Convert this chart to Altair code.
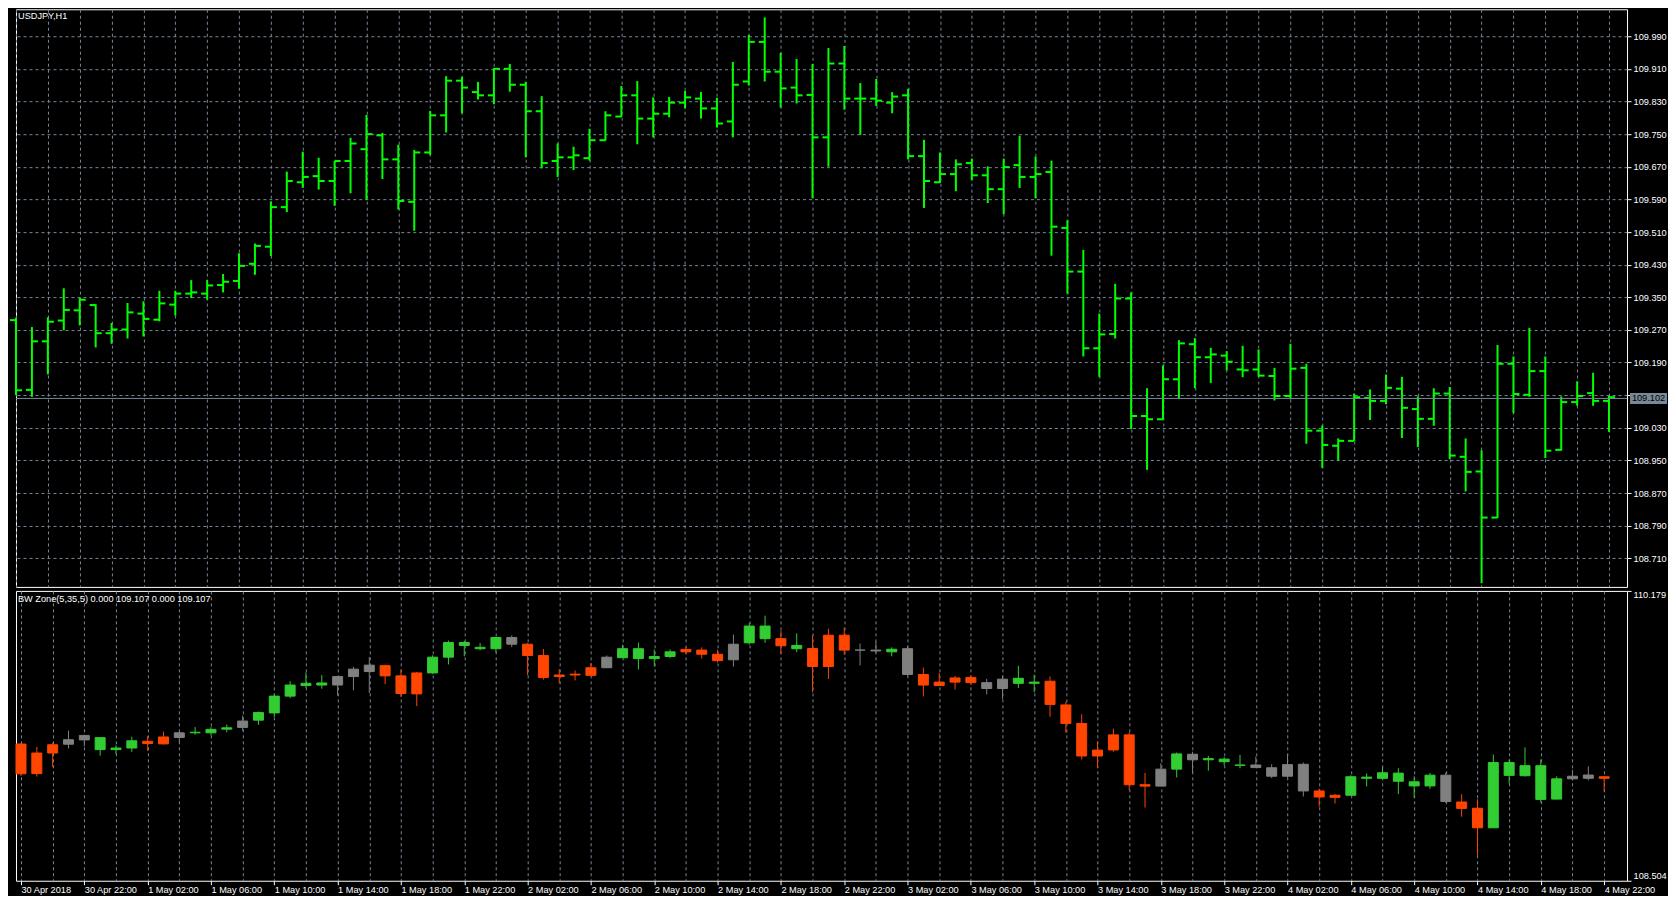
import json
import altair as alt
import pandas as pd

# ---------------- data ----------------
opens = [109.294, 109.123, 109.242, 109.293, 109.318, 109.331, 109.262, 109.271, 109.310, 109.295,
         109.332, 109.359, 109.359, 109.380, 109.390, 109.432, 109.474, 109.571, 109.632, 109.647,
         109.635, 109.684, 109.713, 109.747, 109.688, 109.584, 109.705, 109.796, 109.881, 109.853,
         109.845, 109.910, 109.871, 109.806, 109.684, 109.693, 109.691, 109.735, 109.793, 109.845,
         109.788, 109.800, 109.827, 109.837, 109.813, 109.781, 109.879, 109.976, 109.903, 109.864,
         109.846, 109.742, 109.923, 109.837, 109.837, 109.827, 109.845, 109.696, 109.632, 109.652,
         109.679, 109.649, 109.615, 109.674, 109.645, 109.657, 109.520, 109.413, 109.225, 109.260,
         109.347, 109.059, 109.051, 109.149, 109.235, 109.203, 109.207, 109.173, 109.173, 109.157,
         109.108, 109.177, 109.023, 108.986, 108.998, 109.103, 109.096, 109.126, 109.076, 109.052,
         109.114, 108.959, 108.923, 108.810, 109.187, 109.111, 109.169, 108.976, 109.093, 109.115,
         109.096]
highs = [109.300, 109.277, 109.301, 109.372, 109.348, 109.333, 109.287, 109.336, 109.340, 109.366,
         109.366, 109.392, 109.392, 109.407, 109.458, 109.482, 109.585, 109.658, 109.707, 109.692,
         109.684, 109.741, 109.797, 109.753, 109.724, 109.711, 109.807, 109.892, 109.890, 109.878,
         109.912, 109.922, 109.878, 109.843, 109.727, 109.719, 109.763, 109.806, 109.868, 109.880,
         109.840, 109.841, 109.856, 109.853, 109.839, 109.927, 109.993, 110.036, 109.949, 109.934,
         109.922, 109.961, 109.966, 109.875, 109.885, 109.853, 109.861, 109.736, 109.705, 109.688,
         109.690, 109.671, 109.690, 109.746, 109.695, 109.685, 109.539, 109.466, 109.310, 109.383,
         109.362, 109.127, 109.183, 109.245, 109.250, 109.226, 109.218, 109.231, 109.222, 109.177,
         109.236, 109.187, 109.036, 109.004, 109.114, 109.124, 109.161, 109.155, 109.107, 109.127,
         109.130, 109.004, 108.975, 109.233, 109.205, 109.275, 109.205, 109.107, 109.144, 109.165,
         109.108]
lows = [109.110, 109.106, 109.161, 109.269, 109.281, 109.227, 109.236, 109.249, 109.254, 109.291,
        109.305, 109.348, 109.344, 109.362, 109.371, 109.405, 109.451, 109.559, 109.618, 109.614,
        109.574, 109.605, 109.589, 109.640, 109.565, 109.513, 109.699, 109.754, 109.801, 109.835,
        109.823, 109.854, 109.693, 109.666, 109.645, 109.662, 109.685, 109.734, 109.792, 109.725,
        109.742, 109.791, 109.813, 109.788, 109.766, 109.742, 109.869, 109.879, 109.815, 109.825,
        109.593, 109.670, 109.810, 109.748, 109.819, 109.801, 109.688, 109.569, 109.630, 109.610,
        109.637, 109.581, 109.554, 109.618, 109.593, 109.452, 109.359, 109.205, 109.155, 109.249,
        109.027, 108.927, 109.051, 109.101, 109.127, 109.140, 109.171, 109.154, 109.155, 109.097,
        109.100, 108.991, 108.932, 108.950, 108.998, 109.049, 109.088, 109.005, 108.983, 109.035,
        108.953, 108.874, 108.649, 108.809, 109.066, 109.106, 108.956, 108.974, 109.084, 109.084,
        109.020]
closes = [109.122, 109.242, 109.290, 109.319, 109.344, 109.262, 109.271, 109.313, 109.297, 109.335,
          109.359, 109.362, 109.379, 109.388, 109.427, 109.476, 109.571, 109.635, 109.645, 109.635,
          109.684, 109.727, 109.750, 109.688, 109.586, 109.705, 109.796, 109.881, 109.864, 109.845,
          109.910, 109.871, 109.806, 109.679, 109.693, 109.698, 109.735, 109.796, 109.845, 109.788,
          109.800, 109.827, 109.840, 109.813, 109.776, 109.871, 109.976, 109.903, 109.862, 109.845,
          109.742, 109.923, 109.837, 109.837, 109.832, 109.842, 109.696, 109.635, 109.652, 109.676,
          109.649, 109.615, 109.669, 109.645, 109.652, 109.523, 109.413, 109.225, 109.259, 109.347,
          109.059, 109.051, 109.149, 109.237, 109.203, 109.210, 109.192, 109.171, 109.158, 109.108,
          109.175, 109.023, 108.988, 108.998, 109.105, 109.096, 109.128, 109.079, 109.052, 109.114,
          108.962, 108.922, 108.810, 109.187, 109.113, 109.169, 108.974, 109.093, 109.108, 109.096,
          109.105]
# BW Zone colour state: g = green zone, r = red zone, n = neutral (grey)
zones = list(
    "rrrnngggrr"
    "ngggnggggg"
    "nnnrrrgggg"
    "gnrrrrrngg"
    "ggrrrnggrg"
    "rrrnngnrrr"
    "rnnggrrrrr"
    "rrngngggnn"
    "nnrrgggggg"
    "nrrgggggnn"
    "r")
time_labels = ["30 Apr 2018", "30 Apr 22:00", "1 May 02:00", "1 May 06:00", "1 May 10:00",
               "1 May 14:00", "1 May 18:00", "1 May 22:00", "2 May 02:00", "2 May 06:00",
               "2 May 10:00", "2 May 14:00", "2 May 18:00", "2 May 22:00", "3 May 02:00",
               "3 May 06:00", "3 May 10:00", "3 May 14:00", "3 May 18:00", "3 May 22:00",
               "4 May 02:00", "4 May 06:00", "4 May 10:00", "4 May 14:00", "4 May 18:00",
               "4 May 22:00"]
price_ticks = [108.710, 108.790, 108.870, 108.950, 109.030, 109.110, 109.190, 109.270, 109.350,
               109.430, 109.510, 109.590, 109.670, 109.750, 109.830, 109.910, 109.990]
sub_ticks = [108.504, 110.179]
current_price = [109.102]
main_title = ["USDJPY,H1"]
sub_title = ["BW Zone(5,35,5) 0.000 109.107 0.000 109.107"]

# ---------------- tables ----------------
n = len(opens)
df = pd.DataFrame({"k": list(range(n)), "open": opens, "high": highs, "low": lows,
                   "close": closes, "zone": zones})
price_df = pd.DataFrame({"p": current_price, "label": ["%.3f" % v for v in current_price]})
t1 = pd.DataFrame({"t": main_title})
t2 = pd.DataFrame({"t": sub_title})

# ---------------- layout / style ----------------
W = 1612
TOP_H = 578
BOT_H = 290
FONT = "Liberation Sans"
FS = 9.2
BAR_GREEN = "#00FF00"
GRID = "#778899"
x_domain = [0, 101.13]
top_domain = [108.640, 110.056]
bot_domain = [108.504, 110.179]
grid_vals = list(range(0, n, 2))

xs = alt.Scale(domain=x_domain, nice=False, zero=False)
ys_top = alt.Scale(domain=top_domain, nice=False, zero=False)
ys_bot = alt.Scale(domain=bot_domain, nice=False, zero=False)
zone_scale = alt.Scale(domain=["g", "r", "n"], range=["#32CD32", "#FF4500", "#808080"])

x_top_axis = alt.Axis(values=grid_vals, labels=False, ticks=False, domain=False, grid=True,
                      title=None, gridColor=GRID, gridDash=[3, 3], gridWidth=1)
y_top_axis = alt.Axis(values=price_ticks, orient="right", format=".3f", grid=True, title=None,
                      tickSize=4, labelPadding=2, domain=False, gridColor=GRID,
                      gridDash=[3, 3], gridWidth=1, labelColor="white", tickColor="white",
                      labelFont=FONT, labelFontSize=FS)

label_array = json.dumps(time_labels)
x_bot_axis = alt.Axis(
    values=grid_vals, grid=True, title=None, domain=False, tickSize=4,
    labelAlign="left", labelPadding=1, labelOverlap=False, labelFlush=False,
    labelExpr="datum.value % 4 == 0 ? " + label_array + "[datum.value / 4] : ''",
    tickOpacity={"condition": {"test": "datum.value % 4 == 0", "value": 1}, "value": 0},
    gridColor=GRID, gridDash=[3, 3], gridWidth=1, labelColor="white", tickColor="white",
    labelFont=FONT, labelFontSize=FS,
)
y_bot_axis = alt.Axis(values=sub_ticks, orient="right", format=".3f", grid=False, title=None,
                      tickSize=4, labelPadding=2, labelFlush=True, domain=False,
                      labelColor="white", tickColor="white", labelFont=FONT, labelFontSize=FS)

XT = alt.X("k:Q", scale=xs, axis=x_top_axis)
XB = alt.X("k:Q", scale=xs, axis=x_bot_axis)


def yt(field):
    return alt.Y(field, type="quantitative", scale=ys_top, axis=y_top_axis)


def yb(field):
    return alt.Y(field, type="quantitative", scale=ys_bot, axis=y_bot_axis)


# ---------------- top panel: OHLC bars ----------------
base_top = alt.Chart(df)
hl = base_top.mark_rule(color=BAR_GREEN, strokeWidth=2).encode(
    x=XT, y=yt("low"), y2="high:Q",
)
open_tick = base_top.mark_rule(color=BAR_GREEN, strokeWidth=2, xOffset=-6, x2Offset=0).encode(
    x=XT, x2="k:Q", y=yt("open"),
)
close_tick = base_top.mark_rule(color=BAR_GREEN, strokeWidth=2, xOffset=0, x2Offset=6).encode(
    x=XT, x2="k:Q", y=yt("close"),
)
price_line = alt.Chart(price_df).mark_rule(color=GRID, strokeWidth=1).encode(
    y=yt("p"),
)
price_box = alt.Chart(price_df).mark_rect(color=GRID, yOffset=-5.5, y2Offset=5.5).encode(
    x=alt.value(W + 3), x2=alt.value(W + 40),
    y=yt("p"), y2="p:Q",
)
price_text = alt.Chart(price_df).mark_text(color="#000000", font=FONT, fontSize=FS,
                                           align="center", baseline="middle").encode(
    x=alt.value(W + 21.5),
    y=yt("p"),
    text="label:N",
)
title_top = alt.Chart(t1).mark_text(color="white", font=FONT, fontSize=FS, align="left",
                                    baseline="top").encode(
    x=alt.value(2), y=alt.value(3), text="t:N")

top = alt.layer(hl, open_tick, close_tick, price_line, price_box, price_text, title_top).properties(
    width=W, height=TOP_H)

# ---------------- bottom panel: BW Zone candles ----------------
base_bot = alt.Chart(df)
wick = base_bot.mark_rule(strokeWidth=1).encode(
    x=XB, y=yb("low"), y2="high:Q",
    color=alt.Color("zone:N", scale=zone_scale, legend=None),
)
body = base_bot.mark_bar(width=10, strokeWidth=1).encode(
    x=XB, y=yb("open"), y2="close:Q",
    fill=alt.Fill("zone:N", scale=zone_scale, legend=None),
    stroke=alt.Stroke("zone:N", scale=zone_scale, legend=None),
)
title_bot = alt.Chart(t2).mark_text(color="white", font=FONT, fontSize=FS, align="left",
                                    baseline="top").encode(
    x=alt.value(2), y=alt.value(4), text="t:N")

bottom = alt.layer(wick, body, title_bot).properties(width=W, height=BOT_H)

chart = alt.vconcat(top, bottom, spacing=2).properties(
    background="black", padding=0
).configure_view(
    stroke="white", strokeWidth=1
).configure_axis(
    gridColor=GRID, gridDash=[3, 3], gridWidth=1, gridOpacity=1,
    labelColor="white", tickColor="white", labelFont=FONT, labelFontSize=FS,
)

chart.save("out.html", embed_options={"renderer": "svg", "actions": False})
